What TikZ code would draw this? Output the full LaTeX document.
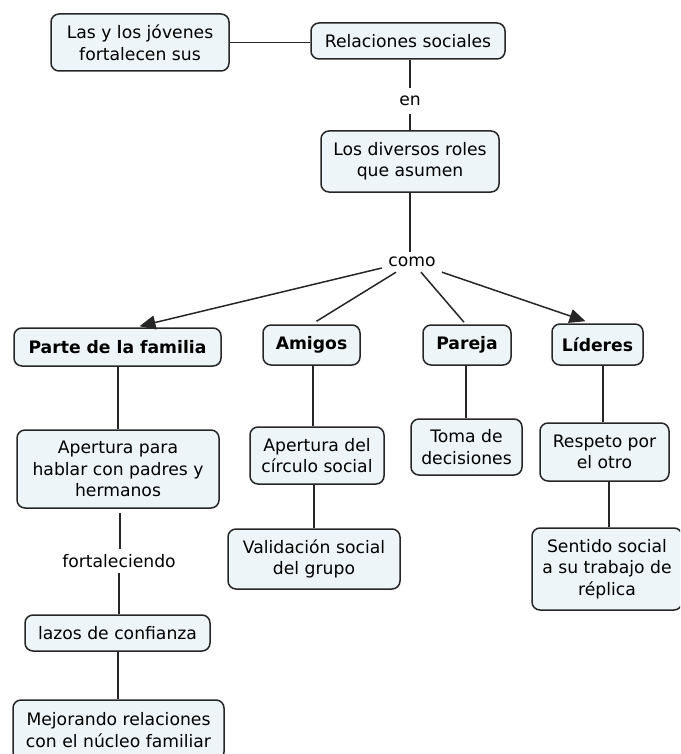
\documentclass[tikz,border=0pt]{standalone}
\usepackage{fontspec}
\setmainfont{DejaVu Sans}
\usetikzlibrary{arrows.meta,calc}
\definecolor{boxfill}{HTML}{EDF5F8}
\definecolor{boxline}{HTML}{262626}
\begin{document}
\begin{tikzpicture}[x=1pt,y=-1pt,
  concept/.style={draw=boxline,fill=boxfill,line width=1.5pt,rounded corners=8pt,
    align=center,inner sep=0pt,font=\fontsize{17.2}{21.5}\selectfont},
  bconcept/.style={concept,font=\fontsize{17.2}{21.5}\selectfont\bfseries},
  linklabel/.style={inner sep=0pt,font=\fontsize{17.2}{21.5}\selectfont},
  conn/.style={draw=boxline,line width=1.5pt},
  arr/.style={conn,-{Triangle[length=16pt,width=14pt]}}]
\useasboundingbox (0,0) rectangle (680,754);
\clip (0,0) rectangle (680,754);
% nodes
\node[concept,minimum width=178,minimum height=57] (las) at (140,42.5) {Las y los jóvenes\\fortalecen sus};
\node[concept,minimum width=194,minimum height=36] (rel) at (408,41) {Relaciones sociales};
\node[linklabel,minimum width=30,minimum height=25] (en) at (410,101) {en};
\node[concept,minimum width=178,minimum height=61] (roles) at (410,161.5) {Los diversos roles\\que asumen};
\node[linklabel,minimum width=60,minimum height=20] (como) at (412,262) {como};
\node[bconcept,minimum width=207,minimum height=38] (parte) at (117.5,347) {Parte de la familia};
\node[bconcept,minimum width=97,minimum height=40] (amigos) at (311.5,345) {Amigos};
\node[bconcept,minimum width=88,minimum height=40] (pareja) at (467,345) {Pareja};
\node[bconcept,minimum width=91,minimum height=41] (lideres) at (597.5,344.5) {Líderes};
\node[concept,minimum width=202,minimum height=78] (ap1) at (118,469) {Apertura para\\hablar con padres y\\hermanos};
\node[concept,minimum width=134,minimum height=57] (ap2) at (317,455.5) {Apertura del\\círculo social};
\node[concept,minimum width=111,minimum height=56] (toma) at (466.5,447) {Toma de\\decisiones};
\node[concept,minimum width=129,minimum height=58] (resp) at (604.5,452) {Respeto por\\el otro};
\node[concept,minimum width=172,minimum height=60] (valid) at (314,559) {Validación social\\del grupo};
\node[concept,minimum width=150,minimum height=82] (sent) at (607,569) {Sentido social\\a su trabajo de\\réplica};
\node[linklabel,minimum width=120,minimum height=24] (fort) at (119,561) {fortaleciendo};
\node[concept,minimum width=185,minimum height=36] (lazos) at (117.5,633) {lazos de confianza};
\node[concept,minimum width=211,minimum height=60] (mej) at (118.5,730) {Mejorando relaciones\\con el núcleo familiar};
% connectors
\draw[conn] (las.east) -- (rel.west |- las.east);
\draw[conn] (rel.south -| en.north) -- (en.north);
\draw[conn] (en.south) -- (roles.north -| en.south);
\draw[conn] (roles.south -| 410,0) -- (como.north -| 410,0);
\draw[arr] ($(como.west)+(0,6)$) -- ($(parte.north)+(22,-1)$);
\draw[conn] ($(como.south)+(-16,0)$) -- ($(amigos.north)+(5,-3)$);
\draw[conn] ($(como.south)+(9,0)$) -- ($(pareja.north)+(-3,-2)$);
\draw[arr] ($(como.south)+(30,0)$) -- ($(lideres.north)+(-12,-2)$);
\draw[conn] (parte.south -| 118,0) -- (ap1.north -| 118,0);
\draw[conn] (amigos.south -| 313,0) -- (ap2.north -| 313,0);
\draw[conn] (pareja.south -| 466,0) -- (toma.north -| 466,0);
\draw[conn] (lideres.south -| 603,0) -- (resp.north -| 603,0);
\draw[conn] (ap2.south -| 314,0) -- (valid.north -| 314,0);
\draw[conn] (resp.south -| 609,0) -- (sent.north -| 609,0);
\draw[conn] ($(ap1.south -| 120,0)+(0,4)$) -- (fort.north -| 120,0);
\draw[conn] (fort.south -| 119,0) -- (lazos.north -| 119,0);
\draw[conn] (lazos.south -| 118,0) -- (mej.north -| 118,0);
\end{tikzpicture}
\end{document}
